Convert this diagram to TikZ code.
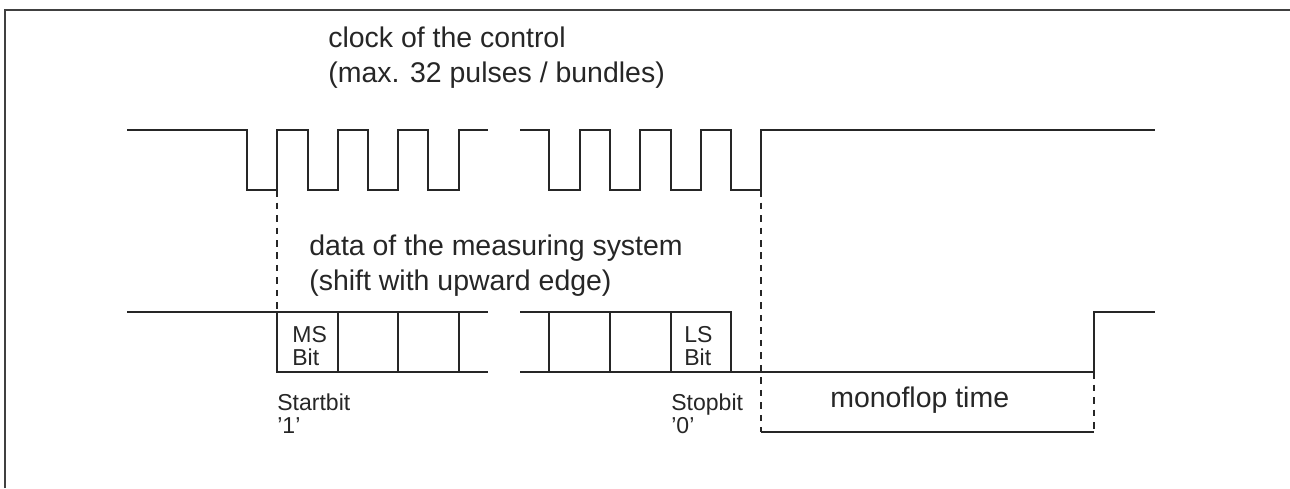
\documentclass[tikz,border=0pt]{standalone}
\usepackage{fontspec}
\setmainfont{Liberation Sans}
\usepackage{tikz}

\begin{document}
\begin{tikzpicture}[
  x=0.02cm, y=-0.02cm,
  sig/.style={line width=1.1pt, color=black!85},
  guide/.style={line width=0.6pt, color=black!85, dash pattern=on 0.13cm off 0.12cm},
  frame/.style={line width=1.2pt, color=black!75},
  biglbl/.style={anchor=base west, inner sep=0pt, align=left,
    font=\fontsize{16.2}{19.4}\selectfont, text=black!85},
  smalllbl/.style={anchor=base west, inner sep=0pt, align=left,
    font=\fontsize{13.1}{12.6}\selectfont, text=black!85}
]
\useasboundingbox (0,0) rectangle (1290,488);
% frame (only top and left edge)
\draw[frame] (5,488) -- (5,10) -- (1290,10);

% clock of the control
\draw[sig] (127,130) -- (247,130) -- (247,190) -- (277,190) -- (277,130)
  -- (308,130) -- (308,190) -- (338,190) -- (338,130)
  -- (368,130) -- (368,190) -- (398,190) -- (398,130)
  -- (428,130) -- (428,190) -- (459,190) -- (459,130) -- (488,130);
\draw[sig] (520,130) -- (549,130) -- (549,190) -- (580,190) -- (580,130)
  -- (610,130) -- (610,190) -- (640,190) -- (640,130)
  -- (671,130) -- (671,190) -- (701,190) -- (701,130)
  -- (731,130) -- (731,190) -- (761,190) -- (761,130) -- (1155,130);

% data of the measuring system
\draw[sig] (127,312) -- (488,312);
\draw[sig] (277,312) -- (277,372) -- (488,372);
\draw[sig] (338,312) -- (338,372);
\draw[sig] (398,312) -- (398,372);
\draw[sig] (459,312) -- (459,372);
\draw[sig] (520,312) -- (731,312) -- (731,372);
\draw[sig] (549,312) -- (549,372);
\draw[sig] (610,312) -- (610,372);
\draw[sig] (671,312) -- (671,372);
\draw[sig] (520,372) -- (1094,372) -- (1094,312) -- (1155,312);

% monoflop time
\draw[sig] (761,432) -- (1094,432);
\draw[guide] (277,190) -- (277,312);
\draw[guide] (761,190) -- (761,432);
\draw[guide] (1094,372) -- (1094,432);

% labels (base = last line)
\node[biglbl] (clk)  at (328,82)  {clock of the control\\(max. 32 pulses / bundles)};
\node[biglbl] (data) at (309,290) {data of the measuring system\\(shift with upward edge)};
\node[smalllbl] (msb)   at (292,365) {MS\\Bit};
\node[smalllbl] (lsb)   at (684,365) {LS\\Bit};
\node[smalllbl] (start) at (277,433) {Startbit\\'1'};
\node[smalllbl] (stop)  at (671,433) {Stopbit\\'0'};
\node[biglbl] (mono) at (830,407) {monoflop time};
\end{tikzpicture}
\end{document}
